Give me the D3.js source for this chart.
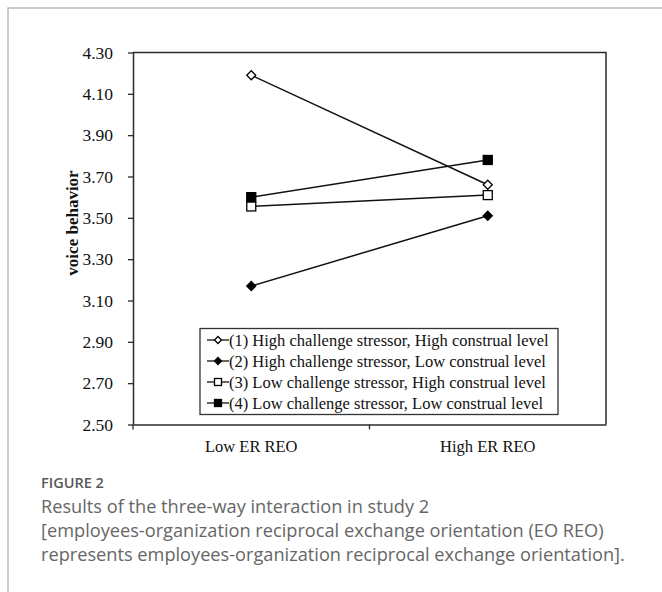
<!DOCTYPE html>
<html>
<head>
<meta charset="utf-8">
<script src="https://cdn.jsdelivr.net/npm/d3@7"></script>
<style>
  body { margin: 0; background: #fff; }
  svg text { font-family: "Liberation Serif", "Times New Roman", serif; }
</style>
</head>
<body>
<script>
// data
let categories = ["Low ER REO", "High ER REO"]
let seriesNames = [
    "(1) High challenge stressor, High construal level",
    "(2) High challenge stressor, Low construal level",
    "(3) Low challenge stressor, High construal level",
    "(4) Low challenge stressor, Low construal level"
]
let series1 = [4.19, 3.66]
let series2 = [3.17, 3.51]
let series3 = [3.555, 3.61]
let series4 = [3.60, 3.78]
let yTicks = [2.50, 2.70, 2.90, 3.10, 3.30, 3.50, 3.70, 3.90, 4.10, 4.30]
let markers = ["diamondOpen", "diamondFilled", "squareOpen", "squareFilled"]

let captionLines = [
    "Results of the three-way interaction in study 2",
    "[employees-organization reciprocal exchange orientation (EO REO)",
    "represents employees-organization reciprocal exchange orientation]."
]

// setup canvas
let width = 662
let height = 592

let svg = d3.select("body").append("svg")
    .attr("width", width)
    .attr("height", height)

// outer card border (top + left only visible)
svg.append("path")
    .attr("d", "M8,592 L8,8 L662,8")
    .attr("fill", "none")
    .attr("stroke", "#bdbdbd")
    .attr("stroke-width", 1.5)

let plot = { left: 133, right: 606, top: 52.5, bottom: 424.5 }

let x = d3.scaleBand()
    .domain(categories)
    .range([plot.left, plot.right])
    .padding(0)

let y = d3.scaleLinear()
    .domain([2.5, 4.3])
    .range([plot.bottom, plot.top])

// frame top + right
svg.append("path")
    .attr("d", `M${plot.left},${plot.top} H${plot.right} V${plot.bottom}`)
    .attr("fill", "none")
    .attr("stroke", "#2b2b2b")
    .attr("stroke-width", 1.5)

// y axis
let yAxis = svg.append("g")
    .attr("transform", `translate(${plot.left},0)`)
    .call(d3.axisLeft(y)
        .tickValues(yTicks)
        .tickFormat(d3.format(".2f"))
        .tickSize(5)
        .tickSizeOuter(0)
        .tickPadding(15))
yAxis.select(".domain").attr("stroke", "#2b2b2b").attr("stroke-width", 1.5)
yAxis.selectAll(".tick line").attr("stroke", "#2b2b2b").attr("stroke-width", 1.3)
yAxis.selectAll("text")
    .attr("font-family", "Liberation Serif")
    .attr("font-size", 17.5)
    .attr("fill", "#111")

// x axis
let xAxis = svg.append("g")
    .attr("transform", `translate(0,${plot.bottom})`)
    .call(d3.axisBottom(x)
        .tickSize(0)
        .tickSizeOuter(0)
        .tickPadding(16))
xAxis.select(".domain").attr("stroke", "#2b2b2b").attr("stroke-width", 1.5)
xAxis.selectAll("text")
    .attr("font-family", "Liberation Serif")
    .attr("font-size", 16.5)
    .attr("fill", "#111")

// tick marks on category boundaries
xAxis.selectAll(".bound")
    .data(categories)
    .enter()
    .append("line")
        .attr("x1", d => x(d))
        .attr("x2", d => x(d))
        .attr("y1", 0)
        .attr("y2", 5)
        .attr("stroke", "#2b2b2b")
        .attr("stroke-width", 1.3)

// y axis title
svg.append("text")
    .attr("transform", "translate(78,223) rotate(-90)")
    .attr("text-anchor", "middle")
    .attr("font-size", 17)
    .attr("font-weight", "bold")
    .attr("fill", "#111")
    .text("voice behavior")

// markers
function drawMarker(g, type, cx, cy, s) {
    if (type.startsWith("diamond")) {
        g.append("path")
            .attr("d", `M${cx},${cy - s} L${cx + s},${cy} L${cx},${cy + s} L${cx - s},${cy} Z`)
            .attr("fill", type == "diamondFilled" ? "#000" : "#fff")
            .attr("stroke", "#000")
            .attr("stroke-width", 1.3)
    } else {
        g.append("rect")
            .attr("x", cx - s)
            .attr("y", cy - s)
            .attr("width", 2 * s)
            .attr("height", 2 * s)
            .attr("fill", type == "squareFilled" ? "#000" : "#fff")
            .attr("stroke", "#000")
            .attr("stroke-width", 1.3)
    }
}

let allSeries = [series1, series2, series3, series4]
let line = d3.line()
    .x((d, i) => x(categories[i]) + x.bandwidth() / 2)
    .y(d => y(d))

let lines = svg.append("g").attr("class", "lines")
allSeries.forEach(s => {
    lines.append("path")
        .attr("d", line(s))
        .attr("fill", "none")
        .attr("stroke", "#111")
        .attr("stroke-width", 1.5)
})
allSeries.forEach((s, k) => {
    s.forEach((v, i) => {
        drawMarker(lines, markers[k], x(categories[i]) + x.bandwidth() / 2, y(v), 4.5)
    })
})

// legend
let legend = svg.append("g").attr("class", "legend")
legend.append("rect")
    .attr("x", 200)
    .attr("y", 328.5)
    .attr("width", 358)
    .attr("height", 86)
    .attr("fill", "#fff")
    .attr("stroke", "#333")
    .attr("stroke-width", 1.3)

seriesNames.forEach((name, k) => {
    let ry = 340 + k * 21
    legend.append("line")
        .attr("x1", 207)
        .attr("x2", 229)
        .attr("y1", ry)
        .attr("y2", ry)
        .attr("stroke", "#111")
        .attr("stroke-width", 1.3)
    drawMarker(legend, markers[k], 218, ry, 3.5)
    legend.append("text")
        .attr("x", 229)
        .attr("y", ry + 5.5)
        .attr("font-size", 16.5)
        .attr("fill", "#111")
        .text(name)
})

// caption
svg.append("text")
    .attr("x", 41)
    .attr("y", 488)
    .attr("font-size", 14.5)
    .attr("font-weight", 600)
    .attr("fill", "#595959")
    .style("font-family", "'Open Sans', sans-serif")
    .text("FIGURE 2")

svg.selectAll(".capline")
    .data(captionLines)
    .enter()
    .append("text")
        .attr("class", "capline")
        .attr("x", 41)
        .attr("y", (d, i) => 513 + i * 24)
        .attr("font-size", 18.2)
        .attr("fill", "#666")
        .style("font-family", "'Open Sans', sans-serif")
        .text(d => d)
</script>
</body>
</html>
